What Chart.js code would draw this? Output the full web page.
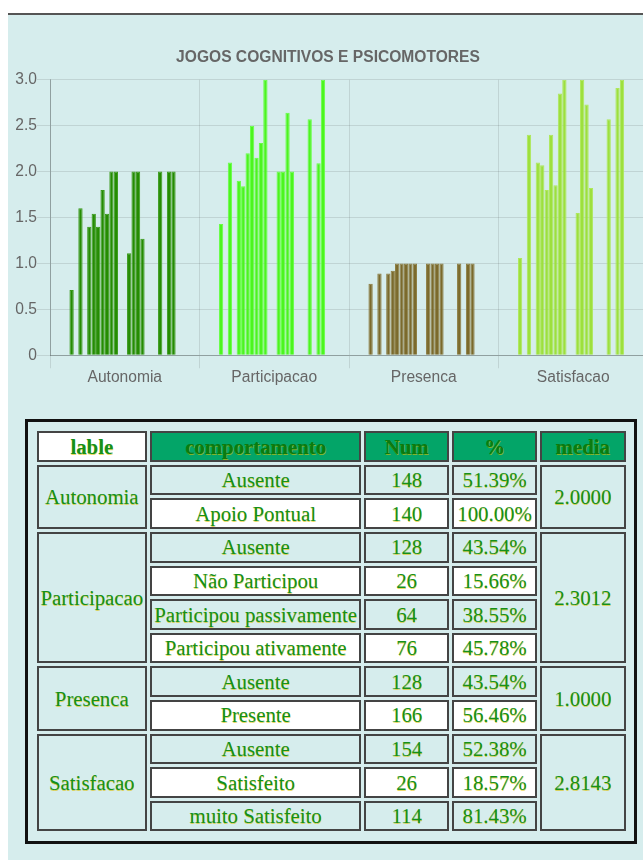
<!DOCTYPE html>
<html>
<head>
<meta charset="utf-8">
<title>Jogos cognitivos e psicomotores</title>
<script src="https://cdn.jsdelivr.net/npm/chart.js@4/dist/chart.umd.min.js"></script>
<style>
    html, body { margin: 0; padding: 0; overflow: hidden; background: #fff; }
    #page {
        position: absolute; left: 8px; top: 13px; width: 700px; height: 900px;
        border-top: 2px solid #555; background: #d6eded;
    }
    #chartBox { position: absolute; left: 0; top: 20px; width: 640px; height: 352px; }
    #tableBox {
        position: absolute; left: 17px; top: 404px; width: 612px;
        box-sizing: border-box; border: 3px solid #111; padding: 6.3px 5.5px;
    }
    table {
        border-collapse: separate; border-spacing: 3.5px 3.8px; table-layout: fixed; width: 595px;
    }
    td, th {
        font-family: "Liberation Serif", "DejaVu Serif", serif; font-size: 20.8px;
        box-sizing: border-box; height: 30.6px; padding: 0; border: 2px solid #444;
        text-align: center; vertical-align: middle; color: #15901a;
        text-shadow: 0.5px 0.5px 0.5px rgba(220, 190, 0, 0.6);
        white-space: nowrap;
    }
    th { background: #03a568; font-weight: bold; color: #0b7a10; }
    th.first { background: #fff; color: #15901a; }
    tr.odd td { background: #d6eded; }
    tr.even td { background: #fff; }
    td.span { background: #d6eded !important; }
</style>
</head>
<body>
<div id="page">
    <div id="chartBox"><canvas id="barChart" width="640" height="352"></canvas></div>
    <div id="tableBox">
        <table id="summary">
            <colgroup>
                <col style="width:110px"><col style="width:210px"><col style="width:84.5px"><col style="width:84.5px"><col style="width:85px">
            </colgroup>
            <thead><tr><th class="first">lable</th><th>comportamento</th><th>Num</th><th>%</th><th>media</th></tr></thead>
            <tbody id="summaryBody"></tbody>
        </table>
    </div>
</div>
<script>
    // chart data: one value per session for each category (null = no bar)
    const categories = ['Autonomia', 'Participacao', 'Presenca', 'Satisfacao'];
    const autonomia    = [null, 0.71, null, 1.6, null, 1.4, 1.54, 1.4, 1.8, 1.54, 2, 2, null, null, 1.11, 2, 2, 1.27, null, null, null, 2, null, 2, 2, null, null];
    const participacao = [null, 1.43, null, 2.1, null, 1.9, 1.84, 2.2, 2.5, 2.15, 2.31, 3, null, null, 2, 2, 2.64, 2, null, null, null, 2.57, null, 2.09, 3, null, null];
    const presenca     = [null, 0.78, null, 0.89, null, 0.89, 0.92, 1, 1, 1, 1, 1, null, null, 1, 1, 1, 1, null, null, null, 1, null, 1, 1, null, null];
    const satisfacao   = [null, 1.06, null, 2.4, null, 2.1, 2.07, 1.8, 2.4, 1.85, 2.85, 3, null, null, 1.55, 3, 2.73, 1.82, null, null, null, 2.57, null, 2.91, 3, null, null];
    const barColors = ['#258c02', '#4cf51f', '#7b6a2c', '#9de03d'];
    const barBorders = ['#3a9a1a', '#66ff44', '#8c7c40', '#aee85a'];

    // table data
    const groupLabels = ['Autonomia', 'Participacao', 'Presenca', 'Satisfacao'];
    const groupMedia = ['2.0000', '2.3012', '1.0000', '2.8143'];
    const comportamentos = [
        ['Ausente', 'Apoio Pontual'],
        ['Ausente', 'Não Participou', 'Participou passivamente', 'Participou ativamente'],
        ['Ausente', 'Presente'],
        ['Ausente', 'Satisfeito', 'muito Satisfeito']
    ];
    const nums = [[148, 140], [128, 26, 64, 76], [128, 166], [154, 26, 114]];
    const pcts = [['51.39%', '100.00%'], ['43.54%', '15.66%', '38.55%', '45.78%'], ['43.54%', '56.46%'], ['52.38%', '18.57%', '81.43%']];

    // build table rows
    const body = document.getElementById('summaryBody');
    let rowCount = 0;
    groupLabels.forEach((label, g) => {
        comportamentos[g].forEach((comp, r) => {
            const tr = document.createElement('tr');
            tr.className = rowCount % 2 === 0 ? 'odd' : 'even';
            rowCount++;
            if (r === 0) {
                const labelCell = document.createElement('td');
                labelCell.className = 'span';
                labelCell.rowSpan = comportamentos[g].length;
                labelCell.textContent = label;
                tr.appendChild(labelCell);
            }
            [comp, nums[g][r], pcts[g][r]].forEach(v => {
                const cell = document.createElement('td');
                cell.textContent = v;
                tr.appendChild(cell);
            });
            if (r === 0) {
                const mediaCell = document.createElement('td');
                mediaCell.className = 'span';
                mediaCell.rowSpan = comportamentos[g].length;
                mediaCell.textContent = groupMedia[g];
                tr.appendChild(mediaCell);
            }
            body.appendChild(tr);
        });
    });

    // one dataset per session, coloured by category
    const datasets = autonomia.map((_, i) => ({
        label: 'Sessao ' + (i + 1),
        data: [autonomia[i], participacao[i], presenca[i], satisfacao[i]],
        backgroundColor: barColors,
        borderColor: barBorders,
        borderWidth: 1,
        barPercentage: 0.97,
        categoryPercentage: 0.8
    }));

    Chart.defaults.font.family = "'Liberation Sans', Arial, sans-serif";
    Chart.defaults.color = '#666';

    const ctx = document.getElementById('barChart').getContext('2d');
    new Chart(ctx, {
        type: 'bar',
        data: { labels: categories, datasets: datasets },
        options: {
            responsive: false,
            animation: false,
            devicePixelRatio: 1,
            layout: { padding: 0 },
            plugins: {
                legend: { display: false },
                tooltip: { enabled: false },
                title: {
                    display: true,
                    text: 'JOGOS COGNITIVOS E PSICOMOTORES',
                    color: '#666',
                    font: { size: 15.6, weight: 'bold' },
                    padding: { top: 13, bottom: 13 }
                }
            },
            scales: {
                x: {
                    grid: { color: 'rgba(0,0,0,0.1)', tickLength: 13, offset: true },
                    border: { color: 'rgba(0,0,0,0.25)' },
                    ticks: { font: { size: 15.6 }, color: '#666', padding: 0 }
                },
                y: {
                    min: 0,
                    max: 3,
                    afterFit: scale => { scale.width = 42; },
                    grid: { color: 'rgba(0,0,0,0.1)', tickLength: 13 },
                    border: { color: 'rgba(0,0,0,0.25)' },
                    ticks: { stepSize: 0.5, font: { size: 15.6 }, color: '#666', padding: 0 }
                }
            }
        }
    });
</script>
</body>
</html>
